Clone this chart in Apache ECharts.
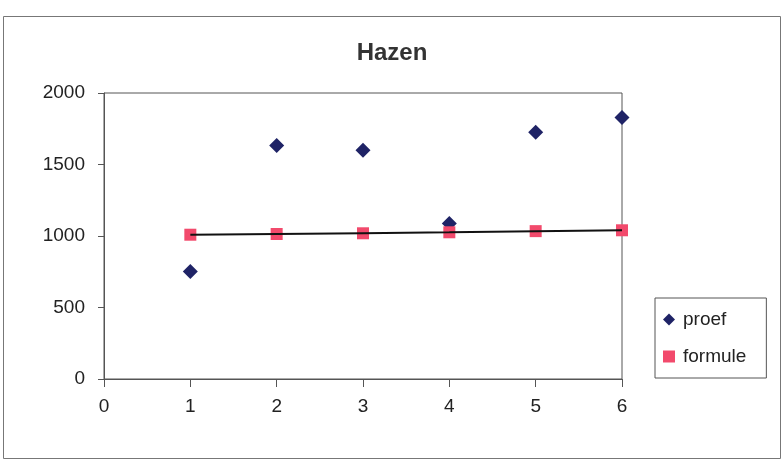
<!DOCTYPE html>
<html><head><meta charset="utf-8">
<script src="https://cdn.jsdelivr.net/npm/echarts@6/dist/echarts.min.js"></script>
<style>html,body{margin:0;padding:0;background:#fff}#c{width:784px;height:463px}</style>
</head><body><div id="c"></div>
<script>
const xValues = [1, 2, 3, 4, 5, 6];
const proef = [752, 1632, 1600, 1087, 1726, 1828];
const formule = [1009, 1014, 1019, 1026, 1034, 1040];
const yTicks = [0, 500, 1000, 1500, 2000];
const xTicks = [0, 1, 2, 3, 4, 5, 6];

const chart = echarts.init(document.getElementById('c'));
const font = 'Arial, "Liberation Sans", sans-serif';
const axisCol = '#555555';
chart.setOption({
  animation: false,
  backgroundColor: '#ffffff',
  title: {
    text: 'Hazen', left: 'center', top: 36,
    textStyle: {fontFamily: font, fontSize: 24, fontWeight: 'bold', color: '#333333'}
  },
  grid: {left: 104, right: 162, top: 93, bottom: 84, show: true, borderColor: axisCol, borderWidth: 1},
  legend: {
    orient: 'vertical', left: 655, top: 298,
    padding: [12, 20, 12, 8], itemGap: 18, itemWidth: 12, itemHeight: 12,
    borderColor: axisCol, borderWidth: 1,
    textStyle: {fontFamily: font, fontSize: 19, color: '#222222', padding: [0, 0, 0, 3]},
    data: [{name: 'proef', icon: 'diamond'}, {name: 'formule', icon: 'rect'}]
  },
  xAxis: {
    type: 'value', min: xTicks[0], max: xTicks[xTicks.length - 1], interval: 1,
    axisLine: {lineStyle: {color: axisCol}},
    axisTick: {show: true, length: 8, lineStyle: {color: axisCol}},
    axisLabel: {fontFamily: font, fontSize: 19, color: '#222222', margin: 18},
    splitLine: {show: false}
  },
  yAxis: {
    type: 'value', min: yTicks[0], max: yTicks[yTicks.length - 1], interval: 500,
    axisLine: {show: true, lineStyle: {color: axisCol}},
    axisTick: {show: true, length: 6, lineStyle: {color: axisCol}},
    axisLabel: {fontFamily: font, fontSize: 19, color: '#222222', margin: 19, formatter: v => String(v)},
    splitLine: {show: false}
  },
  graphic: [{
    type: 'rect', shape: {x: 3.5, y: 16.5, width: 777, height: 442},
    style: {fill: 'none', stroke: '#777777', lineWidth: 1}, z: -1
  }],
  series: [
    {
      name: 'proef', type: 'scatter', symbol: 'diamond', symbolSize: [15, 15],
      itemStyle: {color: '#1f2366', opacity: 1},
      data: xValues.map((x, i) => [x, proef[i]]), z: 2
    },
    {
      name: 'formule', type: 'scatter', symbol: 'rect', symbolSize: [12, 12],
      itemStyle: {color: '#f24a6c', opacity: 1},
      data: xValues.map((x, i) => [x, formule[i]]), z: 3
    },
    {
      name: 'formule-lijn', type: 'line', symbol: 'none',
      lineStyle: {color: '#111111', width: 2},
      data: xValues.map((x, i) => [x, formule[i]]), z: 4, silent: true
    }
  ]
});
</script></body></html>
